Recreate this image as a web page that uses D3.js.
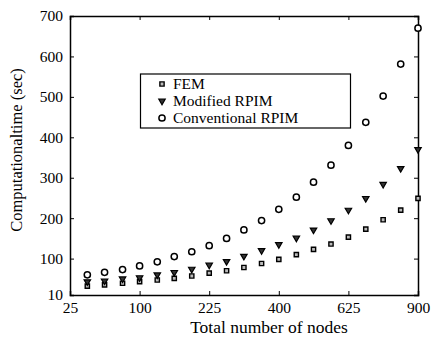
<!DOCTYPE html>
<html>
<head>
<meta charset="utf-8">
<script src="https://cdn.jsdelivr.net/npm/d3@7"></script>
<style>
  body { margin: 0; background: #fff; }
  text { font-family: "Liberation Serif", "Times New Roman", serif; fill: #000; }
</style>
</head>
<body>
<div id="chart"></div>
<script>
// data
var nodes = [39, 56, 77, 100, 127, 156, 189, 225, 264, 306, 352, 400, 452, 506, 564, 625, 689, 756, 827, 900];
var femTime = [32, 35, 39, 43, 47, 51, 57, 64, 70, 78, 88, 98, 110, 123, 136, 153, 173, 196, 220, 249];
var modRpimTime = [43, 45, 50, 53, 60, 66, 74, 84, 93, 106, 120, 135, 151, 171, 194, 220, 249, 284, 323, 370];
var convRpimTime = [60, 66, 73, 82, 92, 105, 117, 132, 150, 171, 194, 222, 252, 289, 331, 380, 437, 502, 581, 670];
var xTicks = [25, 100, 225, 400, 625, 900];
var yTicks = [10, 100, 200, 300, 400, 500, 600, 700];
var seriesNames = ["FEM", "Modified RPIM", "Conventional RPIM"];

var width = 432,
    height = 340;
var plotLeft = 70, plotRight = 418, plotTop = 16, plotBottom = 295;

var svg = d3.select("#chart").append("svg")
    .attr("width", width)
    .attr("height", height);

// x axis is spaced by the square root of the node count
var x = d3.scaleSqrt()
    .domain([25, 900])
    .range([plotLeft, plotRight]);

var y = d3.scaleLinear()
    .domain([10, 700])
    .range([plotBottom, plotTop]);

// ticks on all four sides, pointing inward
var tickLen = 4;
svg.append("g")
    .attr("transform", "translate(0," + plotBottom + ")")
    .call(d3.axisBottom(x).tickValues(xTicks).tickSize(-tickLen).tickPadding(7).tickFormat(d3.format("d")))
    .call(styleAxis);
svg.append("g")
    .attr("transform", "translate(0," + plotTop + ")")
    .call(d3.axisTop(x).tickValues(xTicks).tickSize(-tickLen).tickFormat(""))
    .call(styleAxis);
svg.append("g")
    .attr("transform", "translate(" + plotLeft + ",0)")
    .call(d3.axisLeft(y).tickValues(yTicks).tickSize(-tickLen).tickPadding(7).tickFormat(d3.format("d")))
    .call(styleAxis);
svg.append("g")
    .attr("transform", "translate(" + plotRight + ",0)")
    .call(d3.axisRight(y).tickValues(yTicks).tickSize(-tickLen).tickFormat(""))
    .call(styleAxis);

function styleAxis(g) {
    g.select(".domain").attr("stroke", "#000").attr("stroke-width", 1.5);
    g.selectAll(".tick line").attr("stroke", "#000").attr("stroke-width", 1);
    g.selectAll(".tick text")
        .style("font-family", "'Liberation Serif', 'Times New Roman', serif")
        .style("font-size", "15.5px")
        .attr("fill", "#000");
}

// axis titles
svg.append("text")
    .attr("x", 269)
    .attr("y", 333)
    .attr("text-anchor", "middle")
    .style("font-size", "17.5px")
    .text("Total number of nodes");

svg.append("text")
    .attr("transform", "translate(22,150) rotate(-90)")
    .attr("text-anchor", "middle")
    .style("font-size", "16.5px")
    .text("Computationaltime (sec)");

// markers
var symSquare = d3.symbol().type(d3.symbolSquare).size(18);
var symTri = d3.symbol().type(d3.symbolTriangle).size(18);

function drawSeries(values, kind) {
    var g = svg.append("g");
    var pts = values.map(function (v, i) { return [nodes[i], v]; });
    if (kind === "circle") {
        g.selectAll("circle").data(pts).enter().append("circle")
            .attr("cx", function (d) { return x(d[0]); })
            .attr("cy", function (d) { return y(d[1]); })
            .attr("r", 3.1)
            .attr("fill", "#fff")
            .attr("stroke", "#000")
            .attr("stroke-width", 1.5);
    } else if (kind === "square") {
        g.selectAll("path").data(pts).enter().append("path")
            .attr("d", symSquare)
            .attr("transform", function (d) { return "translate(" + x(d[0]) + "," + y(d[1]) + ")"; })
            .attr("fill", "#bbb")
            .attr("stroke", "#000")
            .attr("stroke-width", 1.4);
    } else {
        g.selectAll("path").data(pts).enter().append("path")
            .attr("d", symTri)
            .attr("transform", function (d) { return "translate(" + x(d[0]) + "," + y(d[1]) + ") rotate(180)"; })
            .attr("fill", "#333")
            .attr("stroke", "#000")
            .attr("stroke-width", 1.2);
    }
}

drawSeries(femTime, "square");
drawSeries(modRpimTime, "triangle");
drawSeries(convRpimTime, "circle");

// legend
var legend = svg.append("g");
legend.append("rect")
    .attr("x", 140.5)
    .attr("y", 74)
    .attr("width", 210)
    .attr("height", 54)
    .attr("fill", "#fff")
    .attr("stroke", "#000")
    .attr("stroke-width", 1.2);

var kinds = ["square", "triangle", "circle"];
seriesNames.forEach(function (name, i) {
    var cy = 84 + i * 17;
    if (kinds[i] === "circle") {
        legend.append("circle").attr("cx", 162).attr("cy", cy).attr("r", 3.1)
            .attr("fill", "#fff").attr("stroke", "#000").attr("stroke-width", 1.5);
    } else if (kinds[i] === "square") {
        legend.append("path").attr("d", symSquare)
            .attr("transform", "translate(162," + cy + ")")
            .attr("fill", "#bbb").attr("stroke", "#000").attr("stroke-width", 1.4);
    } else {
        legend.append("path").attr("d", symTri)
            .attr("transform", "translate(162," + cy + ") rotate(180)")
            .attr("fill", "#333").attr("stroke", "#000").attr("stroke-width", 1.2);
    }
    legend.append("text")
        .attr("x", 173)
        .attr("y", cy + 5)
        .style("font-size", "15.5px")
        .text(name);
});
</script>
</body>
</html>
